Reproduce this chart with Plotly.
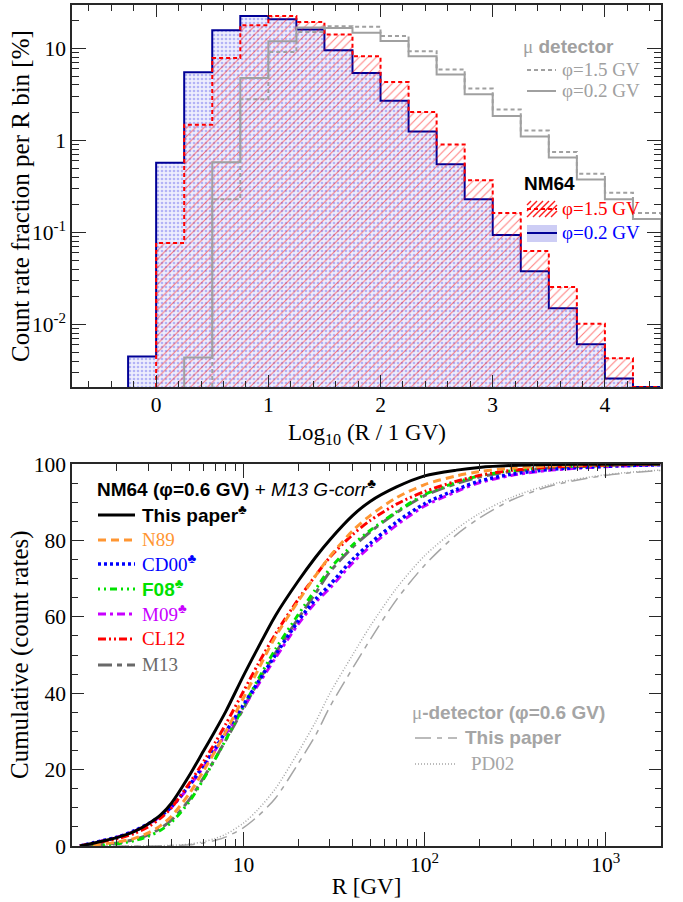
import math
import plotly.graph_objects as go

# ---------------- data: top panel (histograms, % per 0.25 bin in log10 R) ----------------
bin_lo = [-0.25, 0.0, 0.25, 0.5, 0.75, 1.0, 1.25, 1.5, 1.75, 2.0,
          2.25, 2.5, 2.75, 3.0, 3.25, 3.5, 3.75, 4.0, 4.25]
bin_width = 0.25
nm64_phi02 = [0.0045, 0.57, 5.5, 15.7, 22.4, 20.7, 16.0, 9.5, 5.4, 2.7,
              1.25, 0.55, 0.23, 0.094, 0.038, 0.015, 0.0061, 0.0026, 0.0]
nm64_phi15 = [0.0, 0.077, 1.48, 7.85, 17.8, 22.4, 19.3, 14.1, 8.2, 4.3,
              2.03, 0.9, 0.37, 0.163, 0.063, 0.0255, 0.0102, 0.0043, 0.0]
mu_phi02 = [0.0, 0.0, 0.0044, 0.58, 4.75, 11.9, 16.8, 16.6, 14.7, 12.0,
            8.2, 5.2, 3.16, 1.84, 1.1, 0.65, 0.377, 0.23, 0.14]
mu_phi15 = [0.0, 0.0, 0.0, 0.23, 2.8, 9.1, 15.0, 17.3, 17.1, 13.6,
            9.3, 5.9, 3.65, 2.17, 1.28, 0.75, 0.435, 0.27, 0.163]

# ---------------- data: bottom panel (cumulative, %) ----------------
R_grid = [1.25, 1.5, 2, 2.5, 3, 3.5, 4, 5, 6, 7, 8, 10, 12, 15, 20, 25, 30, 40, 50,
          70, 100, 150, 200, 300, 500, 1000, 2000]
cum_this_paper = [0.0, 0.8, 2.2, 3.8, 5.9, 8.2, 11.2, 18.3, 24.8, 30.3, 35.3, 44.6, 51.8, 60.3,
                  69.3, 75.6, 80.2, 86.5, 90.2, 94.0, 96.9, 98.4, 99.1, 99.6, 99.85, 99.95, 100.0]
cum_n89 = [0.0, 0.3, 1.0, 2.0, 3.5, 5.4, 7.8, 13.6, 19.6, 25.0, 30.0, 38.8, 46.0, 54.8,
           64.0, 70.8, 75.8, 82.5, 86.5, 91.2, 94.6, 96.9, 98.0, 98.9, 99.5, 99.8, 100.0]
cum_cd00 = [0.0, 0.9, 2.3, 4.0, 5.9, 7.9, 10.3, 15.8, 21.0, 25.7, 30.0, 37.0, 42.8, 50.0,
            58.8, 64.6, 68.4, 75.0, 79.2, 84.8, 89.6, 93.3, 95.5, 97.3, 98.6, 99.4, 99.8]
cum_f08 = [0.0, 0.1, 0.6, 1.4, 2.6, 4.2, 6.2, 11.5, 17.4, 22.9, 27.9, 36.5, 43.5, 51.5,
           60.5, 67.2, 72.6, 78.8, 82.6, 87.5, 92.0, 95.2, 96.9, 98.2, 99.1, 99.6, 99.9]
cum_m09 = [0.0, 0.9, 2.3, 3.9, 5.8, 7.8, 10.1, 15.5, 20.6, 25.2, 29.4, 36.4, 42.1, 49.2,
           58.0, 63.8, 67.5, 74.1, 78.4, 84.0, 89.0, 92.8, 95.1, 97.0, 98.4, 99.3, 99.8]
cum_cl12 = [0.0, 0.7, 1.9, 3.3, 5.1, 7.4, 10.0, 16.3, 22.0, 27.2, 32.0, 40.5, 47.5, 55.5,
            64.5, 70.8, 75.6, 81.5, 85.2, 89.5, 92.8, 95.5, 97.0, 98.3, 99.2, 99.7, 100.0]
cum_m13 = [0.0, 0.2, 0.8, 1.7, 3.0, 4.7, 6.8, 12.0, 17.8, 23.0, 27.8, 36.0, 42.8, 50.5,
           59.5, 66.2, 71.8, 78.2, 82.2, 87.3, 91.7, 94.9, 96.6, 98.0, 99.0, 99.6, 99.9]
cum_mu_this_paper = [0.0, 0.0, 0.0, 0.0, 0.02, 0.05, 0.1, 0.3, 0.8, 1.5, 2.4, 4.8, 7.8, 12.5,
                     21.5, 29.0, 36.5, 46.5, 54.0, 64.5, 73.5, 81.5, 85.8, 90.5, 94.3, 97.0, 98.3]
cum_mu_pd02 = [0.0, 0.0, 0.0, 0.0, 0.03, 0.08, 0.15, 0.5, 1.1, 2.0, 3.1, 6.0, 9.5, 15.0,
               24.5, 32.5, 40.0, 50.0, 57.5, 67.5, 76.0, 83.0, 87.0, 91.2, 94.7, 97.2, 98.4]

top_y_ticks = [0.01, 0.1, 1, 10]
top_y_ticktext = ["10<sup>-2</sup>", "10<sup>-1</sup>", "1", "10"]
top_x_ticks = [0, 1, 2, 3, 4]
bot_x_ticks = [10, 100, 1000]
bot_x_ticktext = ["10", "10<sup>2</sup>", "10<sup>3</sup>"]
bot_y_ticks = [0, 20, 40, 60, 80, 100]

# ---------------- style ----------------
SERIF = "Liberation Serif"
SANS = "Liberation Sans"
FRAME = "rgb(40,40,40)"
GRAY = "rgb(160,160,160)"
LGRAY = "rgb(165,165,165)"
RED = "rgb(255,0,0)"
Y_LOG_MIN, Y_LOG_MAX = -2.678, 1.47
floor = 10 ** Y_LOG_MIN

W, H = 683, 902
ML, MR, MT, MB = 72, 22, 5, 56
PW, PH = W - ML - MR, H - MT - MB
panel_h = 382
top_dom = [1 - panel_h / PH, 1]
bot_dom = [0, panel_h / PH]


def px(x):
    return (x - ML) / PW


def py(y):
    return (H - MB - y) / PH


def step(lo, vals, width):
    i0 = next(i for i, v in enumerate(vals) if v > 0)
    v = [max(val, floor) for val in vals[i0:]]
    xs = [lo[i0]] + list(lo[i0:]) + [lo[-1] + width]
    ys = [floor] + v + [floor]
    return xs, ys


fig = go.Figure()

# NM64 phi=0.2 (blue dotted fill)
xs, ys = step(bin_lo, nm64_phi02, bin_width)
fig.add_trace(go.Scatter(x=xs, y=ys, mode="lines", line=dict(shape="hv", color="rgb(0,0,150)", width=2),
                         fill="toself", fillcolor="rgba(0,0,0,0)",
                         fillpattern=dict(shape=".", fgcolor="rgb(120,120,240)", bgcolor="rgb(238,238,253)",
                                          size=4, solidity=0.35),
                         xaxis="x", yaxis="y", showlegend=False, hoverinfo="skip"))
# NM64 phi=1.5 (red hatch)
xs, ys = step(bin_lo, nm64_phi15, bin_width)
fig.add_trace(go.Scatter(x=xs, y=ys, mode="lines",
                         line=dict(shape="hv", color=RED, width=2, dash="4px,3px"),
                         fill="toself", fillcolor="rgba(0,0,0,0)",
                         fillpattern=dict(shape="/", fgcolor=RED, bgcolor="rgba(0,0,0,0)",
                                          size=6, solidity=0.18),
                         xaxis="x", yaxis="y", showlegend=False, hoverinfo="skip"))
# mu detector
xs, ys = step(bin_lo, mu_phi15, bin_width)
fig.add_trace(go.Scatter(x=xs, y=ys, mode="lines",
                         line=dict(shape="hv", color=GRAY, width=2, dash="4px,3px"),
                         xaxis="x", yaxis="y", showlegend=False, hoverinfo="skip"))
xs, ys = step(bin_lo, mu_phi02, bin_width)
fig.add_trace(go.Scatter(x=xs, y=ys, mode="lines",
                         line=dict(shape="hv", color=GRAY, width=2),
                         xaxis="x", yaxis="y", showlegend=False, hoverinfo="skip"))

# ---------------- bottom panel curves ----------------
curves = [
    (cum_mu_pd02, LGRAY, "1px,2px", 1.5),
    (cum_mu_this_paper, LGRAY, "16px,6px,5px,6px", 1.5),
    (cum_m13, "rgb(105,105,105)", "14px,5px,5px,5px", 3),
    (cum_m09, "rgb(200,0,255)", "8px,4px,3px,4px", 3),
    (cum_f08, "rgb(0,225,0)", "2px,4px,2px,4px,7px,4px", 3),
    (cum_cd00, "rgb(0,0,255)", "3px,3px", 3.5),
    (cum_cl12, RED, "8px,3px,2px,3px,2px,3px", 3),
    (cum_n89, "rgb(255,150,50)", "8px,5px", 3),
    (cum_this_paper, "black", "solid", 3),
]
for vals, col, dash, wd in curves:
    fig.add_trace(go.Scatter(x=R_grid, y=vals, mode="lines",
                             line=dict(color=col, dash=dash, width=wd, shape="spline", smoothing=0.8),
                             xaxis="x2", yaxis="y2", showlegend=False, hoverinfo="skip"))

axis_common = dict(showline=True, mirror="ticks", linecolor=FRAME, linewidth=1.5, ticks="inside",
                   tickcolor=FRAME, tickwidth=1.2, showgrid=False, zeroline=False, automargin=False,
                   tickfont=dict(family=SERIF, size=21.5, color="black"))
title_font = dict(family=SERIF, size=23, color="black")

minor_log_top = [k * 10 ** e for e in range(-3, 2) for k in range(2, 10)]
minor_log_bot = [k * 10 ** e for e in range(0, 4) for k in range(2, 10)]

fig.update_layout(
    width=W, height=H, margin=dict(l=ML, r=MR, t=MT, b=MB),
    plot_bgcolor="white", paper_bgcolor="white", showlegend=False,
    xaxis=dict(axis_common, domain=[0, 1], anchor="y", range=[-0.75, 4.5],
               tickmode="array", tickvals=top_x_ticks, ticklen=12, ticklabelstandoff=-3,
               minor=dict(ticks="inside", ticklen=6, dtick=0.2, tick0=0, tickcolor=FRAME, showgrid=False)),
    yaxis=dict(axis_common, domain=top_dom, anchor="x", type="log", range=[Y_LOG_MIN, Y_LOG_MAX],
               tickmode="array", tickvals=top_y_ticks, ticktext=top_y_ticktext, ticklen=14,
               minor=dict(ticks="inside", ticklen=7, tickmode="array", tickvals=minor_log_top,
                          tickcolor=FRAME, showgrid=False)),
    xaxis2=dict(axis_common, domain=[0, 1], anchor="y2", type="log", range=[0.053, 3.305],
                tickmode="array", tickvals=bot_x_ticks, ticktext=bot_x_ticktext, ticklen=14,
                ticklabelstandoff=-2,
                minor=dict(ticks="inside", ticklen=7, tickmode="array", tickvals=minor_log_bot,
                           tickcolor=FRAME, showgrid=False),
                title=dict(text="R [GV]", font=title_font, standoff=2)),
    yaxis2=dict(axis_common, domain=bot_dom, anchor="x2", range=[0, 100],
                tickmode="array", tickvals=bot_y_ticks, ticklen=12,
                minor=dict(ticks="inside", ticklen=6, dtick=5, tick0=0, tickcolor=FRAME, showgrid=False)),
)

# ---------------- legends (annotations + key shapes) ----------------
anns = []
shapes = []


def text(x, y, s, family, size, color):
    anns.append(dict(x=px(x), y=py(y), xref="paper", yref="paper", xanchor="left", yanchor="middle",
                     text=s, showarrow=False, font=dict(family=family, size=size, color=color)))


def key_line(x0, x1, y, color, dash, width):
    shapes.append(dict(type="line", xref="paper", yref="paper", x0=px(x0), x1=px(x1), y0=py(y), y1=py(y),
                       line=dict(color=color, dash=dash, width=width)))


# axis titles placed as text
for yc, s in [(196, "Count rate fraction per R bin [%]"), (655, "Cumulative (count rates)")]:
    anns.append(dict(x=px(20), y=py(yc), xref="paper", yref="paper", xanchor="center", yanchor="middle",
                     text=s, textangle=-90, showarrow=False, font=dict(family=SERIF, size=25, color="black")))
anns.append(dict(x=0.5, y=py(418), xref="paper", yref="paper", xanchor="center", yanchor="top",
                 text="Log<sub>10</sub> (R / 1 GV)", showarrow=False, font=title_font))

# top: mu detector
text(521, 46, f"<span style='font-family:{SERIF};font-weight:normal'>μ</span> <b>detector</b>", SANS, 19, GRAY)
key_line(527, 556, 70, GRAY, "4px,3px", 2)
text(560, 69, "φ=1.5 GV", SERIF, 19, GRAY)
key_line(527, 556, 91, GRAY, "solid", 2)
text(560, 90, "φ=0.2 GV", SERIF, 19, GRAY)

# top: NM64
text(522, 183, "<b>NM64</b>", SANS, 19, "black")
# red hatched key box
x0k, x1k = 527, 557
ytop, ybot = 201, 217
step_px = 6
for k in range(-3, 9):
    xa = x0k + k * step_px
    xb = xa + (ybot - ytop)
    ya, yb = ybot, ytop
    if xa < x0k:
        ya = ybot - (x0k - xa)
        xa = x0k
    if xb > x1k:
        yb = ytop + (xb - x1k)
        xb = x1k
    if xb > xa:
        shapes.append(dict(type="line", xref="paper", yref="paper", x0=px(xa), y0=py(ya), x1=px(xb), y1=py(yb),
                           line=dict(color="rgb(255,30,30)", width=1.4)))
key_line(x0k, x1k, 209, RED, "4px,3px", 2)
text(560, 209, "φ=1.5 GV", SERIF, 19, RED)
# blue dotted key box
shapes.append(dict(type="rect", xref="paper", yref="paper", x0=px(x0k), x1=px(x1k), y0=py(242), y1=py(225),
                   line=dict(width=0), fillcolor="rgb(205,205,245)"))
key_line(x0k, x1k, 233, "rgb(0,0,150)", "solid", 2)
text(560, 232, "φ=0.2 GV", SERIF, 19, "rgb(0,0,255)")

# bottom: NM64 legend
club = "<sup>♣</sup>"
text(95, 488, f"<b>NM64 (φ=0.6 GV)</b> + <i>M13 G-corr</i>{club}", SANS, 19, "black")
rows = [
    (514, "<b>This paper</b>" + club, SANS, "black", "solid", 3),
    (539, "N89", SERIF, "rgb(255,150,50)", "8px,5px", 3),
    (563, "CD00" + club, SERIF, "rgb(0,0,255)", "3px,3px", 3.5),
    (588, "<b>F08</b>" + club, SANS, "rgb(0,225,0)", "2px,4px,2px,4px,7px,4px", 3),
    (613, "M09" + club, SERIF, "rgb(200,0,255)", "8px,4px,3px,4px", 3),
    (638, "CL12", SERIF, RED, "8px,3px,2px,3px,2px,3px", 3),
    (664, "M13", SERIF, "rgb(105,105,105)", "14px,5px,5px,5px", 3),
]
for y, s, fam, col, dash, wd in rows:
    key_line(98, 135, y + 1, col, dash, wd)
    text(140, y, s, fam, 19, col)

# bottom: mu-detector legend
text(410, 712, f"<span style='font-family:{SERIF};font-weight:normal'>μ</span><b>-detector (φ=0.6 GV)</b>",
     SANS, 19, LGRAY)
key_line(415, 457, 738, LGRAY, "16px,6px,5px,6px", 1.5)
text(463, 737, "<b>This paper</b>", SANS, 19, LGRAY)
key_line(415, 457, 764, LGRAY, "1px,2px", 1.5)
text(469, 763, "PD02", SERIF, 19, LGRAY)

fig.update_layout(annotations=anns, shapes=shapes)
fig.write_html("out.html")
